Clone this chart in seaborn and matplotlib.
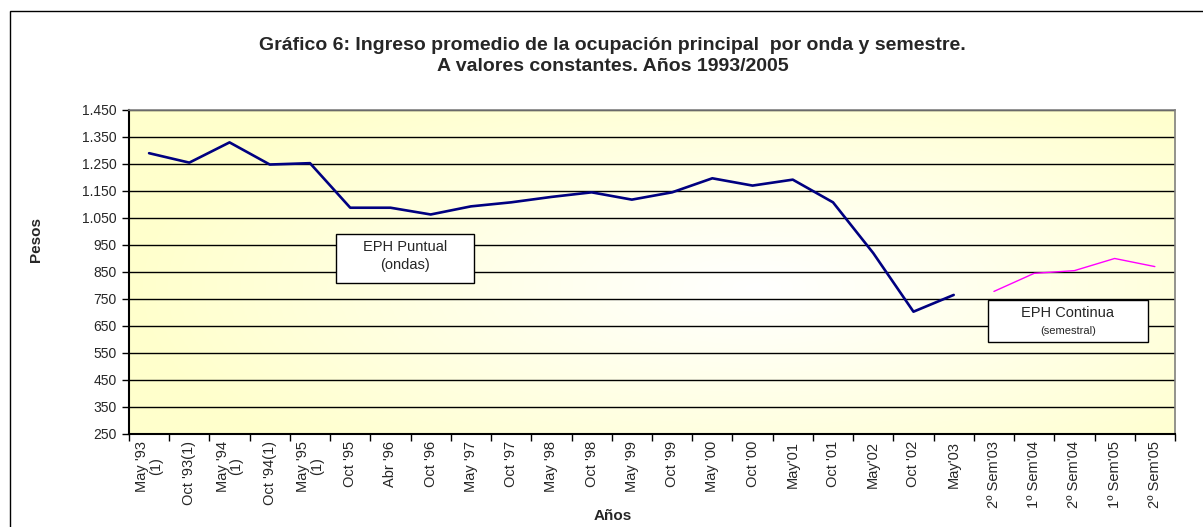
import numpy as np
import matplotlib
matplotlib.use("Agg")
import matplotlib.pyplot as plt
import seaborn as sns
from matplotlib.patches import Rectangle
from matplotlib.ticker import FuncFormatter, FixedLocator

# categorias del eje X
labels = ["May '93\n(1)", "Oct '93(1)", "May '94\n(1)", "Oct '94(1)", "May '95\n(1)",
          "Oct '95", "Abr '96", "Oct '96", "May '97", "Oct '97", "May '98", "Oct '98",
          "May '99", "Oct '99", "May '00", "Oct '00", "May'01", "Oct '01", "May'02",
          "Oct '02", "May'03", "2º Sem'03", "1º Sem'04", "2º Sem'04", "1º Sem'05",
          "2º Sem'05"]

# EPH puntual (ondas)
puntual = [1290, 1255, 1330, 1248, 1253, 1088, 1088, 1063, 1093, 1108, 1128, 1145,
           1118, 1145, 1197, 1170, 1192, 1108, 920, 703, 765]
# EPH continua (semestral)
continua = [778, 845, 855, 900, 870]

yticks = list(range(250, 1451, 100))

sns.set_theme(style="white")
plt.rcParams['font.family'] = ['Liberation Sans', 'DejaVu Sans']

fig = plt.figure(figsize=(12.03, 5.27), dpi=100)
ax = fig.add_axes([0.1072, 0.1765, 0.8695, 0.6148])

# fondo degradado amarillo -> blanco
gx, gy = np.meshgrid(np.linspace(0, 1, 300), np.linspace(0, 1, 150))
r = np.sqrt(((gx - 0.6) / 0.6) ** 2 + ((gy - 0.45) / 0.75) ** 2)
r = np.clip(r, 0, 1)
yellow = np.array([1.0, 1.0, 0.80])
white = np.array([1.0, 1.0, 1.0])
img = white[None, None, :] * (1 - r[..., None]) + yellow[None, None, :] * r[..., None]
ax.imshow(img, extent=[0, 1, 0, 1], transform=ax.transAxes, aspect='auto',
          origin='lower', zorder=0)

x1 = np.arange(len(puntual))
x2 = np.arange(len(puntual), len(labels))
sns.lineplot(x=x1, y=puntual, ax=ax, color='#000080', linewidth=1.9, zorder=3)
sns.lineplot(x=x2, y=continua, ax=ax, color='#FF00FF', linewidth=1.0, zorder=3)

ax.set_xlim(-0.5, len(labels) - 0.5)
ax.set_ylim(250, 1450)
ax.set_yticks(yticks)
ax.yaxis.set_major_formatter(FuncFormatter(lambda v, p: f"{int(v):,}".replace(",", ".")))
for v in yticks[1:]:
    ax.axhline(v, color='black', linewidth=1.0, zorder=1)

ax.set_xticks(np.arange(len(labels)))
ax.set_xticklabels(labels, rotation=90, fontsize=10.5, ha='center', va='top',
                   multialignment='center', linespacing=0.95)
ax.xaxis.set_minor_locator(FixedLocator(np.arange(-0.5, len(labels), 1.0)))
ax.tick_params(axis='x', which='major', length=0, pad=5)
ax.tick_params(axis='x', which='minor', length=5, width=1, color='black', direction='out',
               bottom=True)
ax.tick_params(axis='y', length=5, width=1, color='black', direction='out', left=True,
               labelsize=10, pad=4)

for s in ['left', 'bottom']:
    ax.spines[s].set_color('black')
    ax.spines[s].set_linewidth(1.5)
for s in ['top', 'right']:
    ax.spines[s].set_color('#808080')
    ax.spines[s].set_linewidth(1.2)

ax.set_ylabel("")
ax.set_xlabel("")
fig.text(0.030, 0.545, "Pesos", rotation=90, fontsize=11, fontweight='bold',
         ha='center', va='center')
fig.text(0.509, 0.020, "Años", fontsize=11, fontweight='bold', ha='center', va='center')

fig.text(0.509, 1 - 56 / 527,
         "Gráfico 6: Ingreso promedio de la ocupación principal  por onda y semestre.\n"
         "A valores constantes. Años 1993/2005",
         fontsize=14, fontweight='bold', ha='center', va='center', linespacing=1.35)

# cuadros de texto
ax.add_patch(Rectangle((0.198, 0.466), 0.132, 0.151, transform=ax.transAxes,
                       facecolor='white', edgecolor='black', linewidth=1.0, zorder=4))
ax.text(0.264, 0.578, "EPH Puntual", transform=ax.transAxes, fontsize=10.5,
        ha='center', va='center', zorder=5)
ax.text(0.264, 0.521, "(ondas)", transform=ax.transAxes, fontsize=10.5,
        ha='center', va='center', zorder=5)

ax.add_patch(Rectangle((0.821, 0.284), 0.153, 0.130, transform=ax.transAxes,
                       facecolor='white', edgecolor='black', linewidth=1.0, zorder=4))
ax.text(0.8975, 0.373, "EPH Continua", transform=ax.transAxes, fontsize=10.5,
        ha='center', va='center', zorder=5)
ax.text(0.8975, 0.318, "(semestral)", transform=ax.transAxes, fontsize=8,
        ha='center', va='center', zorder=5)

# marco exterior
fig.patches.append(Rectangle((10 / 1203, -0.1), 1.1, 1 - 11 / 527 + 0.1,
                             transform=fig.transFigure, fill=False,
                             edgecolor='black', linewidth=1.0))

fig.savefig("out.png", dpi=100)
